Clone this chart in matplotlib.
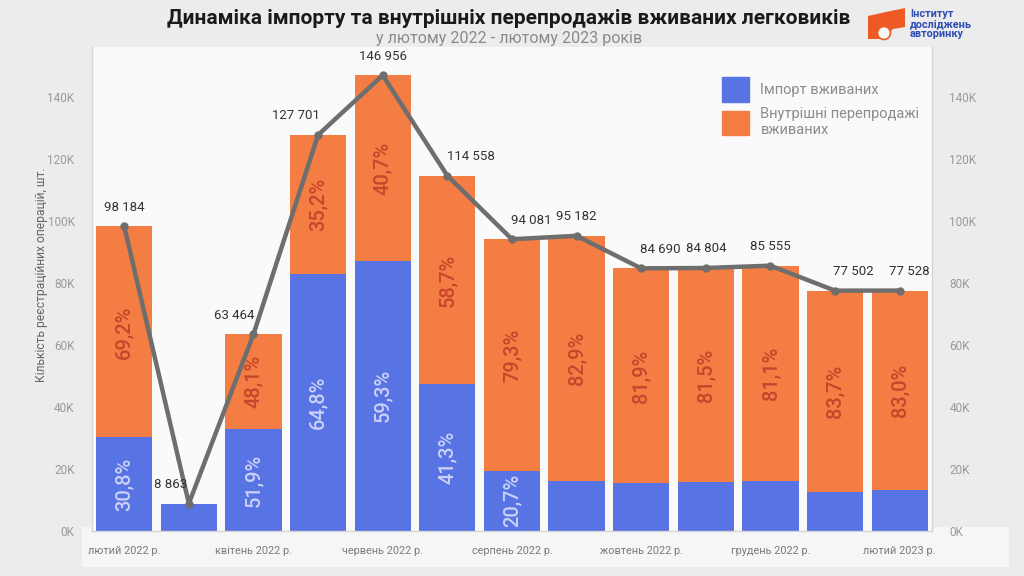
import numpy as np
import matplotlib
matplotlib.use('Agg')
import matplotlib.pyplot as plt
from matplotlib.patches import Patch, Rectangle, Polygon, Ellipse

plt.rcParams['font.family'] = ['Roboto', 'DejaVu Sans']

# дані: лютий 2022 - лютий 2023
months = ['лютий 2022 р.', 'березень 2022 р.', 'квітень 2022 р.', 'травень 2022 р.',
          'червень 2022 р.', 'липень 2022 р.', 'серпень 2022 р.', 'вересень 2022 р.',
          'жовтень 2022 р.', 'листопад 2022 р.', 'грудень 2022 р.', 'січень 2023 р.',
          'лютий 2023 р.']
totals = [98184, 8863, 63464, 127701, 146956, 114558, 94081, 95182,
          84690, 84804, 85555, 77502, 77528]
import_pct = [30.8, 100.0, 51.9, 64.8, 59.3, 41.3, 20.7, 17.1,
              18.1, 18.5, 18.9, 16.3, 17.0]
domestic_pct = [69.2, 0.0, 48.1, 35.2, 40.7, 58.7, 79.3, 82.9,
                81.9, 81.5, 81.1, 83.7, 83.0]
yticks = [0, 20000, 40000, 60000, 80000, 100000, 120000, 140000]

# зсув підписів значень по горизонталі (pt)
label_dx = [0, -13, -14, -16, 0, 17, 14, 0, 14, 0, 0, 13, 7]

c_imp = '#5873e3'
c_dom = '#f47d43'
c_line = '#6e6e6e'

x = np.arange(len(totals))
tot = np.array(totals, dtype=float)
imp = tot * np.array(import_pct) / 100
dom = tot - imp

W, H = 1024, 576
fig = plt.figure(figsize=(10.24, 5.76), dpi=100, facecolor='#ececec')
fig.patches.append(Rectangle((0.08, 0.015), 0.905, 0.07, transform=fig.transFigure,
                             facecolor='#f6f6f6', edgecolor='none', zorder=-5))
ax = fig.add_axes([0.0898, 0.0781, 0.8203, 0.840])
ax.set_facecolor('#fafafa')

ax.bar(x, imp, width=0.87, color=c_imp, zorder=2)
ax.bar(x, dom, width=0.87, bottom=imp, color=c_dom, zorder=2)
ax.plot(x, tot, color=c_line, lw=3.2, marker='o', ms=5, zorder=4,
        solid_joinstyle='round')

def fmt_pct(p):
    return f'{p:.1f}'.replace('.', ',') + '%'

for i in range(len(x)):
    if imp[i] > 18000 and import_pct[i] < 100:
        ax.text(x[i], imp[i] / 2, fmt_pct(import_pct[i]), rotation=90,
                ha='center', va='center', fontsize=14.5, fontweight='medium',
                color='#c9d1f6', zorder=3)
    if dom[i] > 18000:
        ax.text(x[i], imp[i] + dom[i] / 2, fmt_pct(domestic_pct[i]), rotation=90,
                ha='center', va='center', fontsize=14.5, fontweight='medium',
                color='#c9442c', zorder=3)
    ax.annotate(f'{totals[i]:,}'.replace(',', ' '), (x[i], tot[i]),
                xytext=(label_dx[i], 9), textcoords='offset points',
                ha='center', va='bottom', fontsize=9.5, color='#333333', zorder=5)

ax.set_xlim(-0.5, len(x) - 0.5)
ax.set_ylim(0, 156000)
ax.set_xticks(x[::2])
ax.set_xticklabels(months[::2], fontsize=7.8, color='#7a7a7a')
ax.set_yticks(yticks)
ax.set_yticklabels([f'{v // 1000}K' for v in yticks], fontsize=8.5, color='#9a9a9a')
ax.tick_params(axis='y', left=False, right=False, labelleft=True, labelright=True, pad=9)
ax.tick_params(axis='x', bottom=False, pad=7)
ax.spines['top'].set_visible(False)
for s in ['left', 'right', 'bottom']:
    ax.spines[s].set_color('#d6d6d6')
    ax.spines[s].set_linewidth(1)

handles = [Patch(color=c_imp, label='Імпорт вживаних'),
           Patch(color=c_dom, label='Внутрішні перепродажі\nвживаних')]
ax.legend(handles=handles, loc='upper left', bbox_to_anchor=(0.735, 0.965),
          frameon=False, fontsize=10.5, labelcolor='#8c8c8c',
          handlelength=1.8, handleheight=2.2, handletextpad=0.8, labelspacing=0.35)

fig.text(0.041, 0.523, 'Кількість реєстраційних операцій, шт.', rotation=90,
         ha='center', va='center', fontsize=8.7, color='#666666')

fig.text(0.497, 0.968, 'Динаміка імпорту та внутрішніх перепродажів вживаних легковиків',
         ha='center', va='center', fontsize=15, fontweight='bold', color='#1a1a1a')
fig.text(0.497, 0.934, 'у лютому 2022 - лютому 2023 років',
         ha='center', va='center', fontsize=11.5, color='#8a8a8a')

# логотип
pts = [(868, 16), (886, 12), (905, 8), (905, 27), (893, 29), (884, 39), (868, 39)]
fig.patches.append(Polygon([(px / W, 1 - py / H) for px, py in pts], closed=True,
                           transform=fig.transFigure, facecolor='#ee5a24',
                           edgecolor='none'))
fig.patches.append(Ellipse((884 / W, 1 - 33 / H), 13 / W, 13 / H,
                           transform=fig.transFigure, facecolor='#f7f7f7',
                           edgecolor='#ee5a24', lw=1.2))
fig.text(910 / W, 1 - 24 / H, 'Інститут\nдосліджень\nавторинку', ha='left', va='center',
         fontsize=7.8, fontweight='bold', color='#2d4db5', linespacing=0.95)

fig.savefig('out.png', dpi=100, facecolor=fig.get_facecolor())
